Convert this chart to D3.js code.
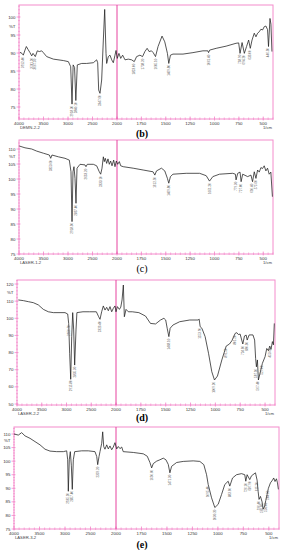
<!DOCTYPE html>
<html>

<head>
    <meta charset="utf-8">
    <script src="https://d3js.org/d3.v7.min.js"></script>
    <style>
        body { margin: 0; background: #fff; }
        svg { display: block; }
    </style>
</head>

<body>
    <script type="text/javascript">
        // wavenumber tick labels (shared by all four spectra)
        let xMajor = [4000, 3500, 3000, 2500, 2000, 1750, 1500, 1250, 1000, 750, 500];

        // spectrum (b)
        let wnB = [3980, 3940, 3912, 3878, 3850, 3816, 3776, 3741, 3714, 3667, 3626, 3585, 3537, 3503, 3435, 3299, 3095, 2993, 2945, 2918,
            2895, 2866, 2840, 2810, 2721, 2619, 2483, 2415, 2394, 2374, 2347, 2313, 2279, 2251, 2224, 2211, 2177, 2143, 2108, 2075,
            2041, 2020, 1997, 1980, 1962, 1942, 1918, 1884, 1850, 1823, 1799, 1765, 1738, 1714, 1691, 1671, 1646, 1629, 1605, 1579,
            1538, 1510, 1483, 1469, 1452, 1426, 1323, 1221, 1119, 1068, 1061, 1050, 983, 881, 779, 752, 738, 717, 694, 671,
            650, 633, 615, 592, 575, 558, 541, 524, 507, 490, 473, 456, 446, 431, 421, 411];
        let tB = [90.2, 89.9, 89.4, 90.8, 91.8, 91.0, 90.1, 89.2, 89.9, 89.0, 90.6, 90.4, 90.6, 90.1, 89.0, 88.3, 87.9, 87.6, 86.2, 75.8,
            86.7, 86.0, 76.8, 86.7, 87.1, 87.1, 87.3, 88.1, 87.3, 79.7, 78.8, 82.5, 93.6, 102.1, 89.9, 87.1, 89.0, 89.4, 88.1, 87.3,
            89.4, 90.7, 88.5, 89.9, 88.5, 89.4, 88.1, 88.3, 88.1, 87.6, 89.0, 89.4, 89.0, 90.4, 91.3, 90.4, 90.6, 90.1, 89.0, 91.8,
            94.7, 93.1, 89.9, 87.1, 89.4, 89.7, 89.7, 90.1, 90.6, 90.6, 90.1, 90.8, 91.3, 91.9, 92.7, 92.8, 89.9, 92.9, 89.9, 91.8,
            93.6, 91.3, 93.6, 95.5, 94.5, 95.5, 95.9, 96.6, 96.4, 97.3, 97.5, 96.5, 91.8, 99.6, 98.0, 90.4];
        let peaksB = [3912.4, 3741.2, 3667.5, 2918.3, 2840.1, 2347.6, 1823.0, 1738.2, 1605.1, 1469.8, 1061.4, 738.9, 694.2, 633.0, 446.3];
        let yTicksB = [75, 80, 85, 90, 95, 100];

        // spectrum (c)
        let wnC = [3994, 3878, 3741, 3639, 3503, 3381, 3353, 3327, 3197, 3061, 2973, 2939, 2918, 2898, 2878, 2857, 2837, 2816, 2755, 2653,
            2633, 2606, 2483, 2415, 2361, 2333, 2306, 2279, 2259, 2239, 2211, 2184, 2157, 2130, 2102, 2068, 2041, 2014, 1993, 1976,
            1962, 1936, 1834, 1732, 1630, 1612, 1595, 1544, 1510, 1483, 1469, 1452, 1426, 1290, 1153, 1085, 1051, 1017, 949, 813,
            786, 779, 762, 738, 727, 711, 660, 626, 610, 592, 575, 558, 541, 524, 507, 490, 473, 456, 439, 422, 406];
        let tC = [111.0, 110.4, 110.0, 109.3, 108.6, 108.0, 106.9, 108.0, 107.4, 106.9, 106.3, 102.4, 85.8, 102.4, 104.1, 100.2, 91.9, 103.6, 104.9, 104.7,
            104.1, 104.9, 104.9, 104.4, 102.4, 101.6, 103.6, 107.4, 105.8, 106.9, 105.2, 106.7, 104.9, 106.0, 104.4, 106.3, 104.1, 106.0, 104.9, 105.8,
            104.4, 104.1, 103.6, 103.0, 102.4, 101.3, 102.7, 103.6, 102.7, 100.2, 98.6, 100.8, 101.6, 101.9, 101.9, 101.1, 99.3, 100.8, 101.6, 101.9,
            101.6, 99.7, 101.9, 102.3, 99.1, 101.6, 100.8, 101.3, 99.1, 102.4, 100.2, 103.0, 102.3, 103.8, 103.5, 104.4, 102.7, 103.6, 101.6, 102.3, 94.1];
        let peaksC = [3353.6, 2918.3, 2837.4, 2633.2, 2333.1, 1612.5, 1469.8, 1051.2, 779.3, 727.0, 610.4, 575.6];
        let yTicksC = [75, 80, 85, 90, 95, 100, 105, 110];

        // spectrum (d)
        let wnD = [3973, 3872, 3771, 3670, 3569, 3468, 3367, 3266, 3131, 3030, 2976, 2956, 2936, 2915, 2895, 2875, 2855, 2835, 2808, 2790,
            2667, 2531, 2397, 2350, 2323, 2290, 2256, 2222, 2188, 2155, 2121, 2087, 2054, 2020, 2000, 1986, 1966, 1952, 1939, 1926,
            1916, 1899, 1876, 1837, 1770, 1703, 1653, 1602, 1552, 1518, 1500, 1485, 1468, 1455, 1426, 1359, 1258, 1174, 1163, 1153,
            1136, 1103, 1069, 1036, 1009, 979, 935, 891, 858, 834, 801, 784, 768, 751, 724, 707, 690, 680, 660, 622,
            605, 595, 587, 577, 567, 543, 527, 500, 483, 466, 453, 440, 426, 416, 407];
        let tD = [110.7, 110.3, 109.7, 109.1, 107.8, 105.2, 103.8, 103.3, 103.3, 103.3, 102.5, 97.0, 79.6, 64.4, 89.3, 103.3, 93.2, 72.7, 93.2, 103.3,
            103.8, 103.8, 103.8, 100.9, 99.4, 103.8, 107.2, 104.8, 106.4, 104.4, 106.8, 103.8, 105.8, 107.2, 103.8, 106.8, 105.2, 106.5, 110.7, 119.4,
            100.9, 105.2, 103.8, 103.8, 103.3, 101.3, 97.0, 96.7, 99.0, 100.0, 99.0, 94.2, 89.3, 94.2, 96.1, 98.0, 99.0, 99.0, 99.5, 95.1,
            94.2, 89.3, 79.6, 68.8, 64.0, 66.3, 75.7, 83.8, 85.0, 86.9, 91.2, 91.6, 90.5, 90.8, 85.0, 89.7, 90.2, 87.3, 90.3, 90.3,
            87.3, 76.6, 71.7, 75.7, 64.0, 69.8, 73.7, 77.6, 82.4, 81.1, 83.8, 81.9, 86.4, 84.5, 97.0];
        let peaksD = [2956.7, 2915.8, 2835.3, 2323.4, 1468.1, 1153.9, 1009.2, 891.5, 801.2, 724.6, 680.3, 587.1, 567.4, 527.0, 453.6];
        let yTicksD = [50, 60, 70, 80, 90, 100, 110, 120];

        // spectrum (e)
        let wnE = [4000, 3915, 3850, 3784, 3686, 3588, 3490, 3392, 3294, 3163, 3033, 2967, 2947, 2935, 2916, 2896, 2876, 2857, 2837, 2810,
            2673, 2543, 2412, 2378, 2359, 2333, 2314, 2280, 2261, 2241, 2216, 2182, 2151, 2118, 2084, 2053, 2020, 1993, 1977, 1961,
            1944, 1929, 1830, 1732, 1693, 1667, 1650, 1634, 1601, 1569, 1536, 1510, 1487, 1471, 1454, 1405, 1340, 1242, 1177, 1138,
            1111, 1095, 1062, 1030, 997, 964, 932, 899, 883, 856, 817, 768, 736, 726, 713, 687, 670, 631, 615, 605,
            596, 582, 566, 556, 540, 530, 517, 504, 484, 464, 452, 439, 425, 415, 406];
        let tE = [110.0, 109.6, 110.5, 109.3, 108.4, 107.2, 106.0, 104.4, 103.7, 103.5, 103.5, 103.8, 100.5, 88.9, 100.5, 103.5, 98.5, 89.6, 100.5, 103.5,
            103.8, 103.8, 103.5, 101.7, 98.7, 101.7, 103.5, 106.6, 110.8, 105.4, 104.4, 106.0, 104.5, 105.6, 104.2, 105.2, 106.8, 104.5, 105.4, 104.6,
            105.2, 103.5, 103.2, 102.7, 101.8, 99.5, 97.5, 99.1, 100.0, 100.5, 101.1, 100.5, 98.8, 95.7, 98.1, 99.5, 99.9, 100.1, 99.9, 98.7,
            95.0, 91.4, 86.5, 82.9, 84.1, 87.7, 91.4, 92.6, 90.8, 93.8, 95.0, 95.4, 95.0, 92.6, 95.0, 93.2, 94.6, 95.7, 93.0, 88.9,
            85.9, 87.0, 85.0, 82.3, 83.5, 85.5, 87.7, 90.0, 92.0, 93.0, 93.8, 92.5, 93.5, 92.0, 89.6];
        let peaksE = [2935.1, 2857.4, 2359.2, 1650.6, 1471.3, 1095.4, 1030.2, 883.6, 726.1, 687.9, 615.2, 596.4, 566.8, 530.0, 504.5];
        let yTicksE = [75, 80, 85, 90, 95, 100, 105, 110];

        let panels = [
            { tag: "(b)", sample: "DEMN-2-2", wn: wnB, t: tB, peaks: peaksB, yTicks: yTicksB, tBottom: 75, tTop: 100, tMinor: 1, tUnit: 97.5,
              left: 19, right: 273, top: 5, bottom: 119, yLo: 107, yHi: 17, mid: 117, capY: 137, bold: true },
            { tag: "(c)", sample: "LASER-1-2", wn: wnC, t: tC, peaks: peaksC, yTicks: yTicksC, tBottom: 75, tTop: 110, tMinor: 1, tUnit: 107.4,
              left: 19, right: 273, top: 140, bottom: 254, yLo: 254, yHi: 149, mid: 117, capY: 272, bold: false },
            { tag: "(d)", sample: "LASER-2-2", wn: wnD, t: tD, peaks: peaksD, yTicks: yTicksD, tBottom: 50, tTop: 120, tMinor: 2, tUnit: 115.3,
              left: 17, right: 275, top: 280, bottom: 405, yLo: 404, yHi: 284, mid: 116, capY: 421, bold: true },
            { tag: "(e)", sample: "LASER-3-2", wn: wnE, t: tE, peaks: peaksE, yTicks: yTicksE, tBottom: 75, tTop: 110, tMinor: 1, tUnit: 107.5,
              left: 14, right: 279, top: 427, bottom: 529, yLo: 529, yHi: 434, mid: 116, capY: 548, bold: true }
        ];

        let pink = "#f48ccc";
        let magenta = "#e6439f";

        let svg = d3.select("body")
            .append("svg")
                .attr("width", 285)
                .attr("height", 550);

        let minorLeft = d3.range(4000, 2000, -100);
        let minorRight = d3.range(2000, 399, -50);

        panels.forEach(p => {
            let x = d3.scaleLinear()
                .domain([4000, 2000, 400])
                .range([p.left, p.mid, p.right]);
            let y = d3.scaleLinear()
                .domain([p.tBottom, p.tTop])
                .range([p.yLo, p.yHi]);

            let g = svg.append("g");

            // frame
            g.append("rect")
                .attr("x", p.left)
                .attr("y", p.top)
                .attr("width", p.right - p.left)
                .attr("height", p.bottom - p.top)
                .attr("fill", "none")
                .attr("stroke", pink)
                .attr("stroke-width", 1);

            // bottom ticks
            g.selectAll(".xminor")
                .data(minorLeft.concat(minorRight))
                .join("line")
                    .attr("x1", d => x(d)).attr("x2", d => x(d))
                    .attr("y1", p.bottom - 1.5).attr("y2", p.bottom + 1)
                    .attr("stroke", pink).attr("stroke-width", 0.7);
            g.selectAll(".xmajor")
                .data(xMajor)
                .join("line")
                    .attr("x1", d => x(d)).attr("x2", d => x(d))
                    .attr("y1", p.bottom - 2.5).attr("y2", p.bottom + 1.5)
                    .attr("stroke", pink).attr("stroke-width", 0.8);
            g.selectAll(".xlab")
                .data(xMajor)
                .join("text")
                    .attr("x", d => x(d))
                    .attr("y", p.bottom + 5.5)
                    .attr("text-anchor", "middle")
                    .attr("font-family", "Liberation Sans, Arial, sans-serif")
                    .attr("font-size", 4.4)
                    .attr("fill", "#333")
                    .text(d => d);

            g.append("text")
                .attr("x", p.left + 1)
                .attr("y", p.bottom + 9.5)
                .attr("font-family", "Liberation Sans, Arial, sans-serif")
                .attr("font-size", 4.2)
                .attr("fill", "#444")
                .text(p.sample);
            g.append("text")
                .attr("x", p.right - 1)
                .attr("y", p.bottom + 9.5)
                .attr("text-anchor", "end")
                .attr("font-family", "Liberation Sans, Arial, sans-serif")
                .attr("font-size", 4.2)
                .attr("fill", "#444")
                .text("1/cm");

            // left ticks
            let yMinor = d3.range(Math.ceil(y.invert(p.bottom)), y.invert(p.top), p.tMinor);
            g.selectAll(".yminor")
                .data(yMinor)
                .join("line")
                    .attr("x1", p.left - 1).attr("x2", p.left + 1)
                    .attr("y1", d => y(d)).attr("y2", d => y(d))
                    .attr("stroke", pink).attr("stroke-width", 0.7);
            g.selectAll(".ymajor")
                .data(p.yTicks)
                .join("line")
                    .attr("x1", p.left - 2.5).attr("x2", p.left + 1.5)
                    .attr("y1", d => y(d)).attr("y2", d => y(d))
                    .attr("stroke", pink).attr("stroke-width", 0.8);
            g.selectAll(".ylab")
                .data(p.yTicks)
                .join("text")
                    .attr("x", p.left - 3.5)
                    .attr("y", d => y(d) + 1.5)
                    .attr("text-anchor", "end")
                    .attr("font-family", "Liberation Sans, Arial, sans-serif")
                    .attr("font-size", 4.4)
                    .attr("fill", "#333")
                    .text(d => d);
            g.append("text")
                .attr("x", p.left - 3.5)
                .attr("y", y(p.tUnit) + 1.5)
                .attr("text-anchor", "end")
                .attr("font-family", "Liberation Sans, Arial, sans-serif")
                .attr("font-size", 4.4)
                .attr("fill", "#333")
                .text("%T");

            // 2000 cm-1 scale change marker
            g.append("line")
                .attr("x1", x(2000)).attr("x2", x(2000))
                .attr("y1", p.top).attr("y2", p.bottom)
                .attr("stroke", magenta)
                .attr("stroke-width", 1);

            // spectrum
            let pts = p.wn.map((w, i) => [w, p.t[i]]);
            let line = d3.line()
                .x(d => x(d[0]))
                .y(d => y(d[1]));
            g.append("path")
                .attr("d", line(pts))
                .attr("fill", "none")
                .attr("stroke", "#1e1e1e")
                .attr("stroke-width", 0.75)
                .attr("stroke-linejoin", "round");

            // peak labels under the bands
            let interp = w => {
                let i = d3.bisector(d => -d[0]).left(pts, -w);
                if (i <= 0) return pts[0][1];
                if (i >= pts.length) return pts[pts.length - 1][1];
                let a = pts[i - 1], b = pts[i];
                return a[1] + (b[1] - a[1]) * (w - a[0]) / (b[0] - a[0]);
            };
            g.selectAll(".peak")
                .data(p.peaks)
                .join("text")
                    .attr("transform", d => `translate(${x(d) + 1},${y(interp(d)) + 2}) rotate(-90)`)
                    .attr("text-anchor", "end")
                    .attr("font-family", "Liberation Sans, Arial, sans-serif")
                    .attr("font-size", 3)
                    .attr("fill", "#555")
                    .text(d => d.toFixed(2));

            // caption
            g.append("text")
                .attr("x", 142)
                .attr("y", p.capY)
                .attr("text-anchor", "middle")
                .attr("font-family", "Liberation Serif, Times New Roman, serif")
                .attr("font-size", 10)
                .attr("font-weight", p.bold ? "bold" : "normal")
                .attr("fill", "#000")
                .text(p.tag);
        });
    </script>
</body>

</html>
